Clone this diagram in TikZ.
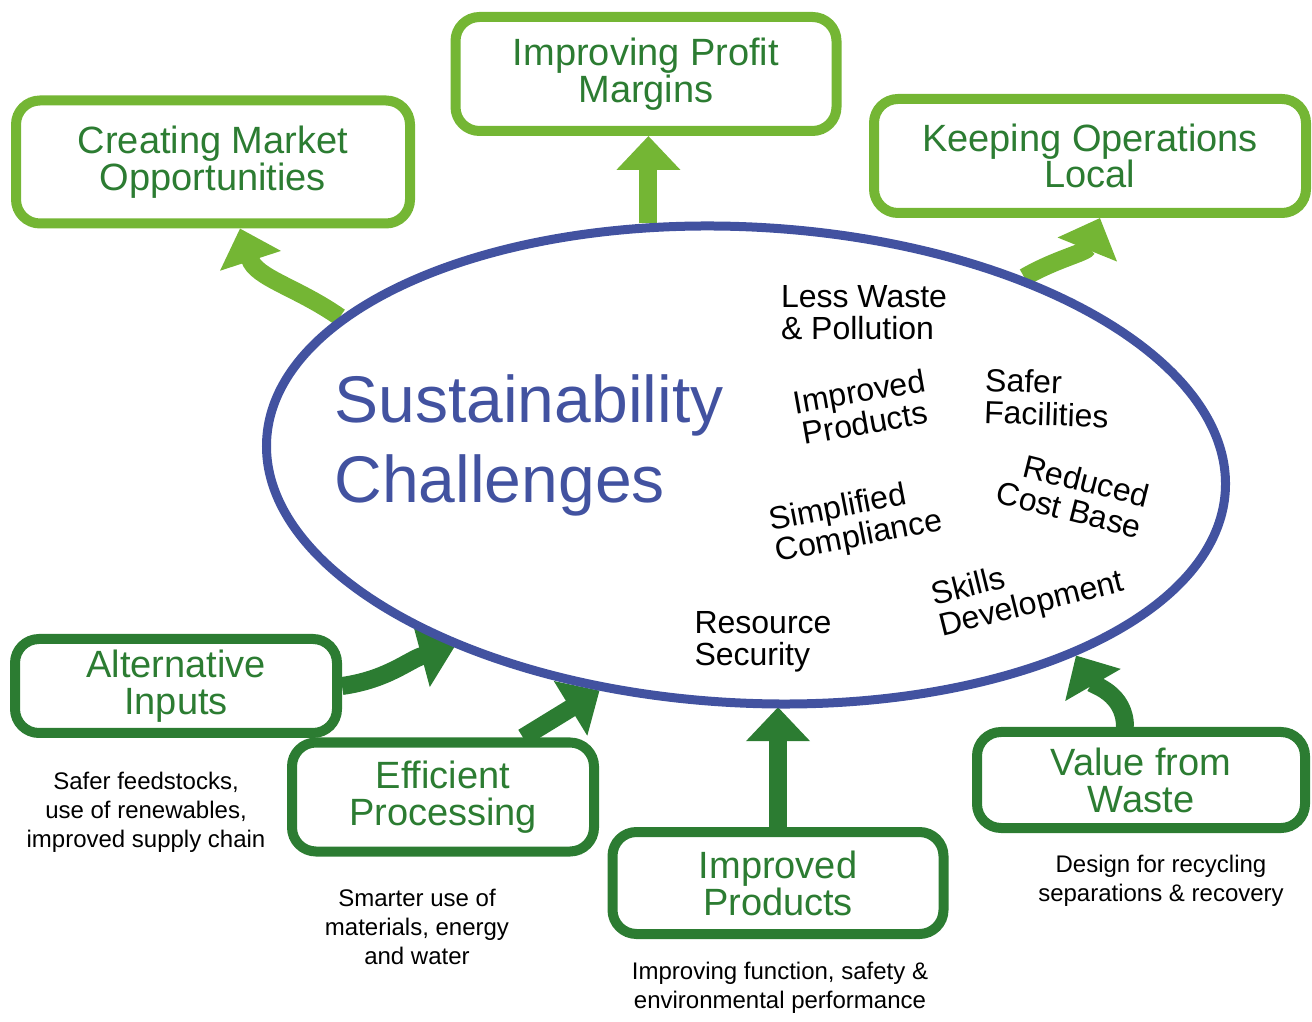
\documentclass[tikz,border=0pt]{standalone}
\usepackage{fontspec}
\setmainfont{Liberation Sans}
\usepackage{tikz}
\usetikzlibrary{arrows.meta,shapes.geometric,backgrounds}
\definecolor{lightgr}{RGB}{116,182,52}
\definecolor{darkgr}{RGB}{44,124,50}
\definecolor{ringblue}{RGB}{66,82,160}

\begin{document}
\begin{tikzpicture}[x=1pt, y=1pt,
    outbox/.style = {draw=lightgr, line width=10pt, rounded corners=24pt, text=darkgr, align=center, inner sep=0pt, font=\fontsize{38}{35}\selectfont},
    inbox/.style = {draw=darkgr, line width=10pt, rounded corners=24pt, text=darkgr, align=center, inner sep=0pt, font=\fontsize{38}{37}\selectfont},
    uparr/.style = {lightgr, line width=18pt, -{Triangle[width=62pt,length=34pt]}},
    inarr/.style = {darkgr, line width=18pt, -{Triangle[width=62pt,length=34pt]}},
    item/.style = {align=left, inner sep=1pt, font=\fontsize{32}{32}\selectfont},
    note/.style = {align=center, font=\fontsize{24}{29}\selectfont}]
    \useasboundingbox (0,0) rectangle (1312,1021);

    \node [ellipse, draw=ringblue, line width=9pt, minimum width=960pt, minimum height=476pt, inner sep=0pt, rotate=-3] (sc) at (746,556) {};
    \node [text=ringblue, align=left, font=\fontsize{66}{80}\selectfont] (ttl) at (529,576) {Sustainability\\Challenges};

    \node [item] (lwp) at (864,708) {Less Waste\\\& Pollution};
    \node [item, align=center, rotate=10] (ipr) at (862,614) {Improved\\Products};
    \node [item, rotate=-2] (sfa) at (1047,623) {Safer\\Facilities};
    \node [item, align=right, rotate=-14] (rcb) at (1073,527) {Reduced\\Cost Base};
    \node [item, rotate=11] (sco) at (856,499) {Simplified\\Compliance};
    \node [item, rotate=14] (skd) at (1028,431) {Skills\\Development};
    \node [item] (rse) at (763,379) {Resource\\Security};

    \node [outbox, minimum width=394pt, minimum height=123pt] (cmo) at (213,859) {Creating Market\\Opportunities};
    \node [outbox, minimum width=381pt, minimum height=114pt] (ipm) at (646,947) {Improving Profit\\Margins};
    \node [outbox, minimum width=432pt, minimum height=114pt] (kol) at (1090,865) {Keeping Operations\\Local};

    \node [inbox, minimum width=322pt, minimum height=94pt] (alt) at (176,335) {Alternative\\Inputs};
    \node [inbox, minimum width=302pt, minimum height=109pt] (eff) at (443,224) {Efficient\\Processing};
    \node [inbox, minimum width=331pt, minimum height=102pt] (imp) at (778,138) {Improved\\Products};
    \node [inbox, minimum width=328pt, minimum height=96pt] (vfw) at (1141,241) {Value from\\Waste};

    \node [note] (n1) at (146,209) {Safer feedstocks,\\use of renewables,\\improved supply chain};
    \node [note] (n2) at (417,94) {Smarter use of\\materials, energy\\and water};
    \node [note] (n3) at (780,33) {Improving function, safety \&\\environmental performance};
    \node [note] (n4) at (1161,140) {Design for recycling\\separations \& recovery};

    \begin{scope}[on background layer]
    \draw[uparr] (sc.163) to[out=145,in=-72] ([xshift=27pt]cmo.south);
    \draw[uparr] (sc.115) -- (sc.115 |- ipm.south);
    \draw[uparr] (sc.37) to[out=30,in=-112] ([xshift=10pt]kol.south);
    \draw[inarr] (alt.east) to[out=8,in=195] (sc.215);
    \draw[inarr] ([xshift=80pt]eff.north) -- (sc.240);
    \draw[inarr] (imp.north) -- (imp.north |- sc.south);
    \draw[inarr] ([xshift=-16pt]vfw.north) to[out=90,in=-60] (sc.-27);
    \end{scope}
\end{tikzpicture}
\end{document}
